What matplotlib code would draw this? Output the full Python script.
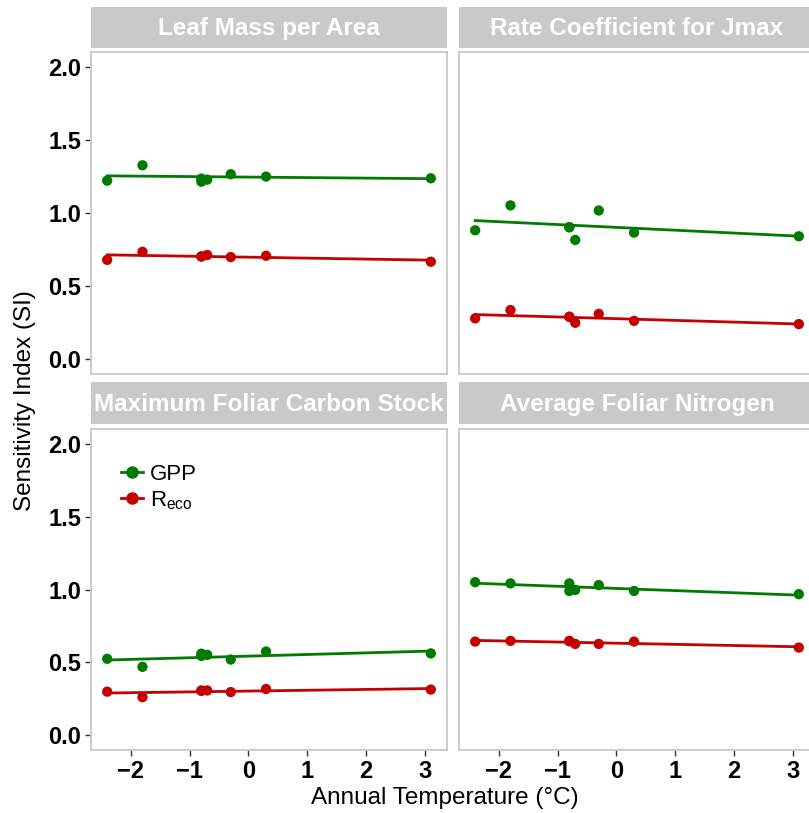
import numpy as np
import matplotlib
matplotlib.use("Agg")
import matplotlib.pyplot as plt
from matplotlib.lines import Line2D

plt.rcParams['font.family'] = ['Liberation Sans', 'DejaVu Sans']

# site annual temperatures (deg C)
temps = [-2.4, -1.8, -0.8, -0.8, -0.7, -0.3, 0.3, 3.1]

panel_titles = ["Leaf Mass per Area", "Rate Coefficient for Jmax",
                "Maximum Foliar Carbon Stock", "Average Foliar Nitrogen"]

gpp_lma = [1.221, 1.326, 1.214, 1.235, 1.228, 1.265, 1.249, 1.237]
reco_lma = [0.680, 0.735, 0.703, 0.703, 0.713, 0.699, 0.708, 0.667]

gpp_jmax = [0.882, 1.052, 0.903, 0.903, 0.816, 1.017, 0.866, 0.841]
reco_jmax = [0.280, 0.337, 0.291, 0.291, 0.250, 0.311, 0.263, 0.241]

gpp_cstock = [0.525, 0.470, 0.560, 0.545, 0.552, 0.520, 0.575, 0.562]
reco_cstock = [0.300, 0.262, 0.308, 0.305, 0.308, 0.297, 0.318, 0.314]

gpp_nitro = [1.050, 1.042, 1.042, 0.990, 0.997, 1.030, 0.990, 0.968]
reco_nitro = [0.643, 0.648, 0.648, 0.645, 0.627, 0.627, 0.643, 0.602]

yticks = [0.0, 0.5, 1.0, 1.5, 2.0]
xticks = [-2, -1, 0, 1, 2, 3]

GREEN = '#007A00'
RED = '#C40000'
STRIP = '#C9C9C9'
BORDER = '#C8C8C8'

W, H = 809, 813
fig = plt.figure(figsize=(W / 100, H / 100), dpi=100)


def px_box(x0, y0, x1, y1):
    # pixel box (top-left origin) -> figure fraction rect
    return [x0 / W, 1 - y1 / H, (x1 - x0) / W, (y1 - y0) / H]


panels = [
    (panel_titles[0], gpp_lma, reco_lma, 91, 52, 447, 374, 7, 48),
    (panel_titles[1], gpp_jmax, reco_jmax, 459, 52, 815, 374, 7, 48),
    (panel_titles[2], gpp_cstock, reco_cstock, 91, 429, 447, 750, 382, 424),
    (panel_titles[3], gpp_nitro, reco_nitro, 459, 429, 815, 750, 382, 424),
]

x = np.array(temps)
axes = []
for i, (title, gpp, reco, x0, y0, x1, y1, s0, s1) in enumerate(panels):
    ax = fig.add_axes(px_box(x0, y0, x1, y1))
    for vals, col in [(gpp, GREEN), (reco, RED)]:
        y = np.array(vals)
        k, b = np.polyfit(x, y, 1)
        xx = np.array([x.min(), x.max()])
        ax.plot(xx, k * xx + b, color=col, lw=2.0, zorder=2)
        ax.scatter(x, y, s=55, color=col, edgecolor='none', zorder=3)
    ax.set_xlim(-2.675, 3.375)
    ax.set_ylim(-0.1, 2.1)
    for sp in ax.spines.values():
        sp.set_color(BORDER)
        sp.set_linewidth(1.3)
    ax.tick_params(length=4, width=1, color='#333333', labelsize=17, pad=3)
    ax.set_xticks(xticks)
    ax.set_yticks(yticks)
    ax.set_yticklabels(["%.1f" % t for t in yticks], fontweight='bold')
    ax.set_xticklabels([str(t).replace('-', '\u2212') for t in xticks], fontweight='bold')
    if i < 2:
        ax.tick_params(axis='x', bottom=False, labelbottom=False)
    if i % 2 == 1:
        ax.tick_params(axis='y', left=False, labelleft=False)

    # strip header
    sax = fig.add_axes(px_box(x0, s0, x1, s1))
    sax.set_facecolor(STRIP)
    sax.set_xticks([])
    sax.set_yticks([])
    for sp in sax.spines.values():
        sp.set_visible(False)
    sax.text(0.5, 0.47, title, transform=sax.transAxes, ha='center', va='center',
             color='white', fontsize=17.5, fontweight='bold')
    axes.append(ax)

handles = [Line2D([], [], color=GREEN, marker='o', markersize=8, lw=2),
           Line2D([], [], color=RED, marker='o', markersize=8, lw=2)]
axes[2].legend(handles, ['GPP', r'$\mathregular{R_{eco}}$'], loc='upper left',
               bbox_to_anchor=(0.06, 0.92), frameon=False, fontsize=16,
               handlelength=1.0, handletextpad=0.3, labelspacing=0.2,
               borderaxespad=0)

fig.text(25 / W, (1 - 52 / H + 1 - 750 / H) / 2, 'Sensitivity Index (SI)',
         rotation=90, ha='center', va='center', fontsize=17.5)
fig.text(445 / W, 1 - 798 / H, 'Annual Temperature (\u00b0C)',
         ha='center', va='center', fontsize=17.5)

fig.savefig('out.png', dpi=100)
